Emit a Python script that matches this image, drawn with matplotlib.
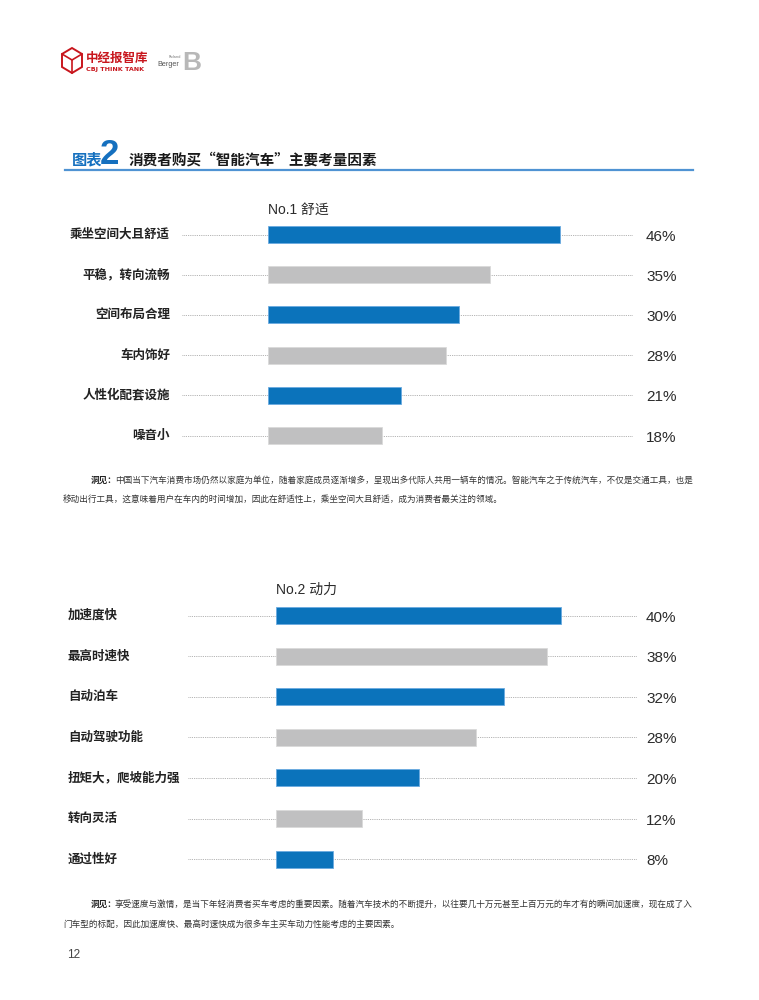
import matplotlib
matplotlib.use("Agg")
import matplotlib.pyplot as plt
from matplotlib.patches import Polygon

plt.rcParams['font.family'] = ['Noto Sans CJK SC', 'DejaVu Sans']

# ---------------- data ----------------
title_main = "消费者购买“智能汽车”主要考量因素"
chart1_title = "No.1 舒适"
chart1_labels = ["乘坐空间大且舒适", "平稳，转向流畅", "空间布局合理", "车内饰好", "人性化配套设施", "噪音小"]
chart1_values = [46, 35, 30, 28, 21, 18]

chart2_title = "No.2 动力"
chart2_labels = ["加速度快", "最高时速快", "自动泊车", "自动驾驶功能", "扭矩大，爬坡能力强", "转向灵活", "通过性好"]
chart2_values = [40, 38, 32, 28, 20, 12, 8]

note1_lines = ["中国当下汽车消费市场仍然以家庭为单位，随着家庭成员逐渐增多，呈现出多代际人共用一辆车的情况。智能汽车之于传统汽车，不仅是交通工具，也是",
               "移动出行工具，这意味着用户在车内的时间增加，因此在舒适性上，乘坐空间大且舒适，成为消费者最关注的领域。"]
note2_lines = ["享受速度与激情，是当下年轻消费者买车考虑的重要因素。随着汽车技术的不断提升，以往要几十万元甚至上百万元的车才有的瞬间加速度，现在成了入",
               "门车型的标配，因此加速度快、最高时速快成为很多车主买车动力性能考虑的主要因素。"]
page_number = "12"

BLUE = "#0B73BB"
GREY = "#C0C0C1"
TXT = "#2B2B2B"
W, H = 759, 1000

fig = plt.figure(figsize=(W / 100, H / 100), dpi=100)
fig.patch.set_facecolor("white")


def fx(x):
    return x / W


def fy(y):
    return 1 - y / H


LAT = ['Liberation Sans', 'Noto Sans CJK SC']

# ---------------- header ----------------
hexa = Polygon([(fx(72), fy(48)), (fx(82), fy(54)), (fx(82), fy(67)), (fx(72), fy(73)),
                (fx(62), fy(67)), (fx(62), fy(54))], closed=True, fill=False,
               edgecolor="#C8161D", lw=1.4, transform=fig.transFigure)
fig.add_artist(hexa)
fig.add_artist(plt.Line2D([fx(62), fx(72), fx(82)], [fy(54), fy(60), fy(54)], color="#C8161D", lw=1.2,
                          transform=fig.transFigure))
fig.add_artist(plt.Line2D([fx(72), fx(72)], [fy(60), fy(73)], color="#C8161D", lw=1.2,
                          transform=fig.transFigure))
fig.text(fx(86), fy(58), "中经报智库", color="#C8161D", fontsize=9, fontweight="bold", va="center", ha="left")
fig.text(fx(86.5), fy(69.5), "CBJ THINK TANK", color="#C8161D", fontsize=4.6, fontweight="bold",
         va="center", ha="left", family=['DejaVu Sans'])
fig.text(fx(169), fy(57), "Roland", color="#777777", fontsize=2.6, va="center", ha="left", family=['DejaVu Sans'])
fig.text(fx(157), fy(64), "Berger", color="#555555", fontsize=5.2, va="center", ha="left", family=['Liberation Sans'])
fig.text(fx(182), fy(63), "B", color="#B8B8B8", fontsize=19, fontweight="bold", va="center", ha="left",
         family=['Liberation Sans'])

# ---------------- title bar ----------------
fig.text(fx(72), fy(159), "图表", color="#1570BF", fontsize=11, fontweight="bold", va="center", ha="left")
fig.text(fx(100), fy(155), "2", color="#1570BF", fontsize=25, fontweight="bold", va="center", ha="left",
         family=LAT)
fig.text(fx(129), fy(160), title_main, color="#1A1A1A", fontsize=10.5, fontweight="bold", va="center", ha="left")
fig.add_artist(plt.Line2D([fx(65), fx(693)], [fy(169.5), fy(169.5)], color="#4F93D3", lw=1.6,
                          transform=fig.transFigure))


# ---------------- charts ----------------
def draw_chart(labels, values, title, x0px, pxper, row0, rowstep, dot_start, dot_end, label_x, label_ha,
               pct_x, title_y):
    n = len(labels)
    ax_left_px, ax_right_px = 150, 700
    top_px = row0 - rowstep / 2
    bot_px = row0 + rowstep * (n - 0.5)
    ax = fig.add_axes([fx(ax_left_px), fy(bot_px), (ax_right_px - ax_left_px) / W, (bot_px - top_px) / H])
    ax.set_xlim((ax_left_px - x0px) / pxper, (ax_right_px - x0px) / pxper)
    ax.set_ylim(n - 0.5, -0.5)
    ax.axis("off")

    def d(px):
        return (px - x0px) / pxper

    colors = [BLUE if i % 2 == 0 else GREY for i in range(n)]
    edges = ["#6AAAE0" if i % 2 == 0 else "#DADADA" for i in range(n)]
    ys = list(range(n))
    for y in ys:
        ax.plot([d(dot_start), d(dot_end)], [y, y], color="#9A9A9A", lw=0.6, linestyle=(0, (1, 1.2)), zorder=1)
    ax.barh(ys, values, height=0.42, color=colors, edgecolor=edges, linewidth=0.6, zorder=2)
    for y, lab, v in zip(ys, labels, values):
        ax.text(d(label_x), y, lab, ha=label_ha, va="center", fontsize=9, color="#222222", fontweight="bold")
        ax.text(d(pct_x), y + 0.05, f"{v}%", ha="left", va="center", fontsize=11, color=TXT, family=LAT)
    fig.text(fx(x0px), fy(title_y), title, ha="left", va="center", fontsize=10, color=TXT, family=LAT,
             fontweight="medium")
    return ax


draw_chart(chart1_labels, chart1_values, chart1_title, x0px=268, pxper=6.35, row0=234.5, rowstep=40.2,
           dot_start=182, dot_end=632, label_x=170, label_ha="right", pct_x=646, title_y=210)
draw_chart(chart2_labels, chart2_values, chart2_title, x0px=276, pxper=7.125, row0=615.5, rowstep=40.6,
           dot_start=188, dot_end=637, label_x=68, label_ha="left", pct_x=646, title_y=590)


# ---------------- notes ----------------
def note(lines, y1, y2):
    fig.text(fx(91), fy(y1), "洞见：", fontsize=6.2, fontweight="bold", color="#222222", va="center", ha="left")
    fig.text(fx(115), fy(y1), lines[0], fontsize=6.2, color="#333333", va="center", ha="left")
    fig.text(fx(63), fy(y2), lines[1], fontsize=6.2, color="#333333", va="center", ha="left")


note(note1_lines, 480, 499)
note(note2_lines, 904, 924)

fig.text(fx(67), fy(955), page_number, fontsize=8.5, color="#444444", va="center", ha="left", family=LAT)

fig.savefig("out.png", dpi=100, facecolor="white")
